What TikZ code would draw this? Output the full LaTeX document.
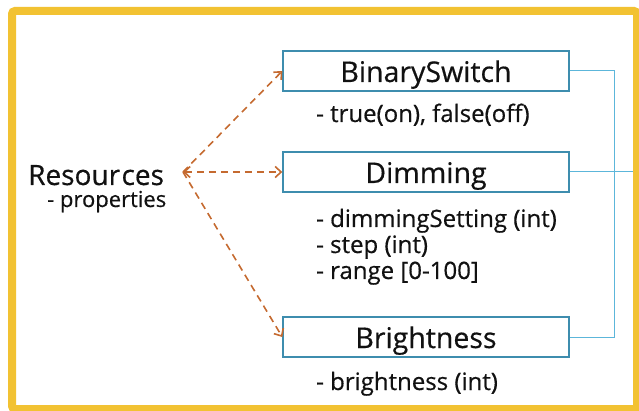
\documentclass[tikz,border=0pt]{standalone}
\usepackage{fontspec}
\setmainfont{Open Sans}[FakeBold=0.5]
\usetikzlibrary{arrows.meta}
\definecolor{frameyellow}{HTML}{F2C232}
\definecolor{boxedge}{HTML}{3E8DAE}
\definecolor{linkblue}{HTML}{5CB6DA}
\definecolor{dashbrown}{HTML}{C56A30}
\definecolor{txt}{HTML}{111111}
\tikzset{
  resbox/.style={draw=boxedge, line width=1.4pt, minimum width=286pt, minimum height=40pt,
    inner sep=0pt, text height=24pt, text depth=2pt,
    font=\fontsize{28.5}{30}\selectfont, text=txt},
  proptext/.style={anchor=base west, inner sep=0pt, font=\fontsize{24}{26}\selectfont, text=txt},
  barb/.tip={Straight Barb[length=6pt,width=11pt,line width=1.6pt]},
  dashlink/.style={draw=dashbrown, line width=1.6pt, dash pattern=on 7pt off 5pt, -barb},
  link/.style={draw=linkblue, line width=1pt},
}
\begin{document}
\begin{tikzpicture}[x=1pt,y=-1pt]
  \useasboundingbox (0,0) rectangle (639,411);
  % outer frame
  \draw[frameyellow, line width=8pt, rounded corners=3pt] (12,11) rectangle (637,409);

  % resource boxes
  \node[resbox] (bs) at (426,71) {BinarySwitch};
  \node[resbox] (dm) at (426,172) {Dimming};
  \node[resbox] (br) at (426,337) {Brightness};

  % property lists
  \node[proptext] (bsp) at (316,122) {- true(on), false(off)};
  \node[proptext] (dm1) at (316,227) {- dimmingSetting (int)};
  \node[proptext] (dm2) at (316,253) {- step (int)};
  \node[proptext] (dm3) at (316,279) {- range [0-100]};
  \node[proptext] (brp) at (316,390) {- brightness (int)};

  % resources label
  \node[anchor=base west, inner sep=0pt, font=\fontsize{28}{30}\selectfont, text=txt] (res) at (28,185)
    {Resour\kern1.5pt ces};
  \node[anchor=base west, inner sep=0pt, font=\fontsize{22}{24}\selectfont, text=txt] (resp) at (47,207)
    {- properties};

  % dashed links from the resource hub
  \coordinate (hub) at (183,172);
  \draw[dashlink, barb-barb] (hub) -- (dm.west);
  \draw[dashlink] (hub) -- (bs.west);
  \draw[dashlink] (hub) -- (br.west);

  % right-hand collector
  \coordinate (bus) at (614,172);
  \coordinate (edge) at (633,172);
  \draw[link] (bs.east) -| (bus |- br.east) -- (br.east);
  \draw[link] (dm.east) -- (edge);
\end{tikzpicture}
\end{document}
